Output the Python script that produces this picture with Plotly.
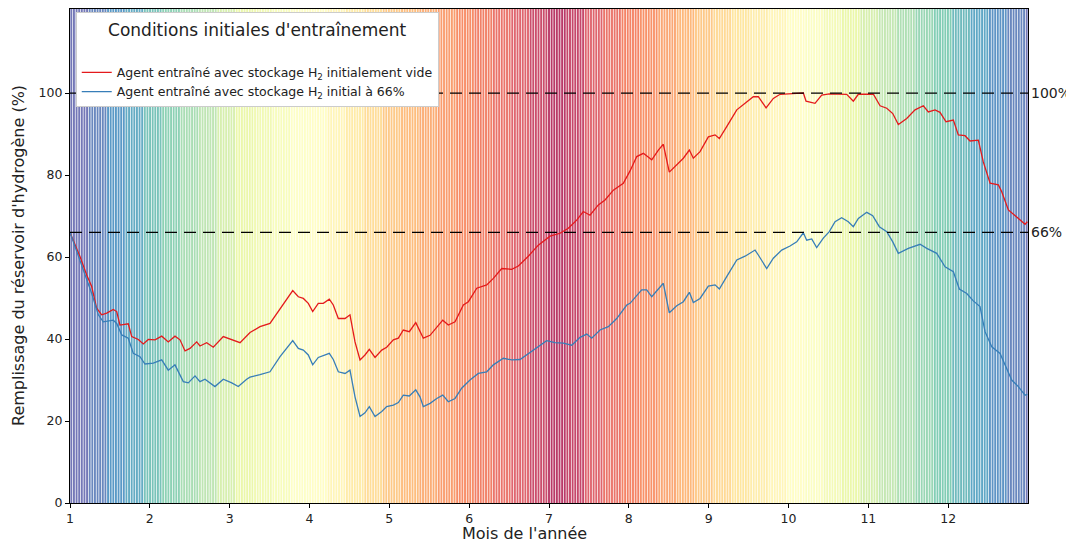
import plotly.graph_objects as go
import plotly.colors as pc

# ---------------- data ----------------
month_ticks = [1, 2, 3, 4, 5, 6, 7, 8, 9, 10, 11, 12]

# weekly background level (0 = cold/blue, 1 = hot/dark red), Spectral_r colormap
week_level = [0.02, 0.05, 0.09, 0.13, 0.18, 0.22, 0.27, 0.31, 0.36, 0.40,
              0.43, 0.46, 0.49, 0.51, 0.54, 0.58, 0.62, 0.67, 0.70, 0.73,
              0.76, 0.79, 0.82, 0.85, 0.89, 0.94, 0.98, 0.95, 0.89, 0.85,
              0.81, 0.78, 0.74, 0.71, 0.67, 0.63, 0.60, 0.57, 0.54, 0.51,
              0.48, 0.44, 0.40, 0.36, 0.32, 0.28, 0.24, 0.20, 0.16, 0.12,
              0.08, 0.05, 0.02]
n_days = 365

red_x = [1.000, 1.125, 1.209, 1.272, 1.334, 1.397, 1.460, 1.542, 1.585, 1.626,
         1.730, 1.773, 1.856, 1.918, 1.981, 2.065, 2.149, 2.231, 2.315, 2.378,
         2.441, 2.503, 2.587, 2.628, 2.712, 2.795, 2.920, 3.026, 3.130, 3.255,
         3.380, 3.505, 3.631, 3.735, 3.790, 3.860, 3.923, 3.985, 4.040, 4.110,
         4.173, 4.248, 4.298, 4.361, 4.445, 4.507, 4.570, 4.633, 4.695, 4.749,
         4.821, 4.905, 4.967, 5.050, 5.113, 5.175, 5.250, 5.331, 5.384, 5.426,
         5.510, 5.594, 5.669, 5.739, 5.823, 5.927, 5.990, 6.095, 6.220, 6.303,
         6.408, 6.533, 6.616, 6.741, 6.866, 7.013, 7.138, 7.242, 7.347, 7.430,
         7.514, 7.618, 7.702, 7.806, 7.931, 8.015, 8.099, 8.182, 8.287, 8.370,
         8.432, 8.507, 8.600, 8.683, 8.758, 8.808, 8.892, 8.996, 9.080, 9.134,
         9.226, 9.352, 9.456, 9.559, 9.622, 9.719, 9.810, 9.894, 10.103, 10.186,
         10.220, 10.332, 10.416, 10.511, 10.729, 10.812, 10.875, 11.063, 11.147, 11.231,
         11.306, 11.376, 11.481, 11.585, 11.689, 11.752, 11.835, 11.898, 11.973, 12.065,
         12.127, 12.211, 12.274, 12.378, 12.440, 12.525, 12.629, 12.671, 12.754, 12.859,
         12.963, 12.992]
red_y = [66.0, 60.1, 55.6, 52.8, 47.5, 45.9, 46.3, 47.2, 46.7, 43.4,
         43.7, 40.6, 39.9, 38.8, 39.9, 39.8, 40.7, 39.3, 40.7, 39.8,
         37.1, 37.7, 39.3, 38.3, 39.1, 38.0, 40.6, 39.9, 39.1, 41.6,
         43.0, 43.8, 47.2, 50.3, 51.8, 50.3, 49.9, 48.7, 46.7, 48.7,
         48.7, 49.7, 48.3, 45.0, 45.0, 45.9, 39.3, 34.9, 36.1, 37.5,
         35.5, 37.3, 38.0, 39.8, 40.2, 42.2, 41.8, 44.0, 41.8, 40.2,
         40.9, 43.0, 44.6, 43.4, 44.2, 48.3, 49.1, 52.4, 53.2, 54.8,
         57.2, 57.0, 57.8, 60.2, 62.9, 65.1, 65.8, 67.0, 69.0, 71.1,
         70.2, 72.7, 73.9, 76.3, 78.0, 81.0, 84.5, 85.3, 83.7, 86.1,
         87.5, 80.7, 82.4, 84.1, 86.1, 84.1, 85.7, 89.3, 89.8, 88.9,
         91.8, 95.9, 97.5, 99.1, 99.1, 96.4, 98.7, 99.7, 99.9, 100.0,
         98.0, 97.5, 99.5, 99.8, 99.7, 98.0, 99.7, 99.7, 96.9, 96.3,
         95.0, 92.3, 93.8, 95.9, 96.9, 95.4, 95.9, 95.3, 93.0, 93.4,
         89.8, 89.6, 88.3, 88.5, 83.2, 78.0, 77.6, 75.9, 71.5, 69.8,
         68.0, 68.6]

blue_x = [1.000, 1.167, 1.272, 1.355, 1.417, 1.542, 1.585, 1.648, 1.730, 1.793,
          1.877, 1.939, 2.043, 2.149, 2.231, 2.315, 2.419, 2.482, 2.566, 2.628,
          2.691, 2.816, 2.920, 3.026, 3.108, 3.213, 3.255, 3.380, 3.505, 3.631,
          3.735, 3.790, 3.860, 3.923, 3.985, 4.040, 4.110, 4.173, 4.248, 4.298,
          4.361, 4.445, 4.507, 4.570, 4.633, 4.695, 4.749, 4.821, 4.905, 4.967,
          5.050, 5.113, 5.175, 5.250, 5.331, 5.384, 5.426, 5.510, 5.594, 5.669,
          5.739, 5.823, 5.906, 6.010, 6.115, 6.220, 6.303, 6.428, 6.533, 6.637,
          6.741, 6.866, 6.971, 7.075, 7.179, 7.285, 7.389, 7.473, 7.535, 7.639,
          7.743, 7.848, 7.974, 8.015, 8.161, 8.224, 8.287, 8.432, 8.507, 8.600,
          8.683, 8.758, 8.808, 8.892, 8.996, 9.080, 9.134, 9.226, 9.352, 9.456,
          9.581, 9.622, 9.727, 9.810, 9.915, 10.019, 10.103, 10.186, 10.228, 10.291,
          10.353, 10.436, 10.511, 10.583, 10.666, 10.749, 10.812, 10.875, 10.980, 11.055,
          11.138, 11.231, 11.306, 11.376, 11.501, 11.648, 11.732, 11.857, 11.961, 12.065,
          12.140, 12.233, 12.315, 12.399, 12.462, 12.546, 12.650, 12.712, 12.796, 12.879,
          12.963, 12.992]
blue_y = [66.0, 56.8, 51.1, 45.9, 44.2, 44.6, 43.8, 41.0, 40.2, 36.5,
          35.7, 33.9, 34.1, 34.9, 32.4, 33.7, 29.6, 29.3, 31.0, 29.6,
          30.2, 28.4, 30.2, 29.3, 28.4, 30.2, 30.7, 31.3, 32.0, 35.7,
          38.3, 39.6, 37.7, 37.3, 36.1, 33.7, 35.5, 35.9, 36.5, 35.0,
          32.0, 31.6, 32.4, 25.9, 21.1, 22.0, 23.5, 21.1, 22.3, 23.5,
          23.9, 24.5, 26.3, 26.1, 27.6, 25.9, 23.5, 24.3, 25.5, 26.3,
          24.7, 25.5, 28.0, 30.0, 31.6, 32.0, 33.7, 35.3, 34.9, 35.0,
          36.5, 38.1, 39.6, 39.1, 39.0, 38.5, 40.4, 41.2, 40.2, 42.2,
          43.0, 45.0, 48.3, 48.7, 52.0, 52.0, 50.3, 53.6, 46.4, 48.1,
          49.1, 51.4, 48.9, 49.9, 52.9, 53.2, 52.2, 55.2, 59.3, 60.2,
          61.7, 60.5, 57.2, 59.7, 61.7, 62.7, 63.7, 65.9, 64.1, 64.4,
          62.3, 64.6, 66.2, 68.6, 69.6, 68.6, 67.4, 69.4, 70.9, 70.1,
          67.4, 66.2, 63.7, 60.9, 62.1, 63.1, 62.1, 60.9, 57.6, 56.4,
          52.2, 51.1, 49.3, 47.9, 41.8, 38.1, 36.5, 33.7, 30.0, 28.4,
          26.3, 26.5]

ref_levels = [100, 66]
ref_labels = ["100%", "66%"]

red_name = "Agent entraîné avec stockage H<sub>2</sub> initialement vide"
blue_name = "Agent entraîné avec stockage H<sub>2</sub> initial à 66%"
legend_title = "Conditions initiales d'entraînement"
x_title = "Mois de l'année"
y_title = "Remplissage du réservoir d'hydrogène (%)"

# ---------------- figure ----------------
X_MIN, X_MAX = 1, 13
Y_MIN, Y_MAX = 0, 120.5

spectral_r = pc.diverging.Spectral[::-1]


def level_color(v, alpha=0.82):
    c = pc.sample_colorscale(pc.make_colorscale(spectral_r), [v])[0]
    r, g, b = [float(t) for t in c[c.index("(") + 1:c.index(")")].split(",")]
    return f"rgba({r:.0f},{g:.0f},{b:.0f},{alpha})"


fig = go.Figure()

# background: one thin vertical stripe per day, grouped by week colour
step = (X_MAX - X_MIN) / n_days
for w, lvl in enumerate(week_level):
    xs, ys = [], []
    for d in range(w * 7, min(w * 7 + 7, n_days)):
        xd = X_MIN + (d + 0.5) * step
        xs += [xd, xd, None]
        ys += [Y_MIN, Y_MAX, None]
    if not xs:
        continue
    fig.add_trace(go.Scatter(x=xs, y=ys, mode="lines",
                             line=dict(color=level_color(lvl), width=1.9),
                             showlegend=False, hoverinfo="skip"))

fig.add_trace(go.Scatter(x=red_x, y=red_y, mode="lines", name=red_name,
                         line=dict(color="#e41a1c", width=1.3)))
fig.add_trace(go.Scatter(x=blue_x, y=blue_y, mode="lines", name=blue_name,
                         line=dict(color="#377eb8", width=1.3)))

for lvl, lab in zip(ref_levels, ref_labels):
    fig.add_shape(type="line", xref="paper", yref="y", x0=0, x1=1, y0=lvl, y1=lvl,
                  line=dict(color="black", width=1.2, dash="12px,7px"), layer="above")
    fig.add_annotation(xref="paper", yref="y", x=1.0, y=lvl, text=lab, showarrow=False,
                       xanchor="left", yanchor="middle", xshift=1,
                       font=dict(size=14, color="#222"))

# axis titles as annotations (fixed placement)
fig.add_annotation(xref="paper", yref="paper", x=0.5, y=0, yshift=-30, xshift=-25,
                   xanchor="center", yanchor="middle", text=x_title, showarrow=False,
                   font=dict(size=16, color="#222"))
fig.add_annotation(xref="paper", yref="paper", x=0, y=0.5, xshift=-52,
                   xanchor="center", yanchor="middle", text=y_title, showarrow=False,
                   textangle=-90, font=dict(size=16, color="#222"))

# the page body adds an 8 px offset, so the figure is sized to fit the window
fig.update_layout(
    width=1066, height=537,
    margin=dict(l=62, r=46, t=1, b=42, autoexpand=False),
    paper_bgcolor="white", plot_bgcolor="white",
    font=dict(family="DejaVu Sans", color="#222", size=12),
    showlegend=True,
    legend=dict(
        x=0.006, y=0.993, xanchor="left", yanchor="top",
        bgcolor="white", bordercolor="#cccccc", borderwidth=1,
        title=dict(text=legend_title + "<br> ", side="top center",
                   font=dict(size=17, color="#222")),
        font=dict(size=12.5, color="#222"),
        itemwidth=30, tracegroupgap=0,
    ),
    xaxis=dict(range=[X_MIN, X_MAX], tickvals=month_ticks, ticks="outside", ticklen=4,
               tickcolor="black", showline=True, linecolor="black", linewidth=1.2,
               mirror=True, showgrid=False, zeroline=False, automargin=False,
               tickfont=dict(size=12.5)),
    yaxis=dict(range=[Y_MIN, Y_MAX], tickvals=[0, 20, 40, 60, 80, 100], ticks="outside",
               ticklen=4, tickcolor="black", showline=True, linecolor="black",
               linewidth=1.2, mirror=True, showgrid=False, zeroline=False,
               automargin=False, tickfont=dict(size=12.5)),
)

fig.write_html("out.html")
